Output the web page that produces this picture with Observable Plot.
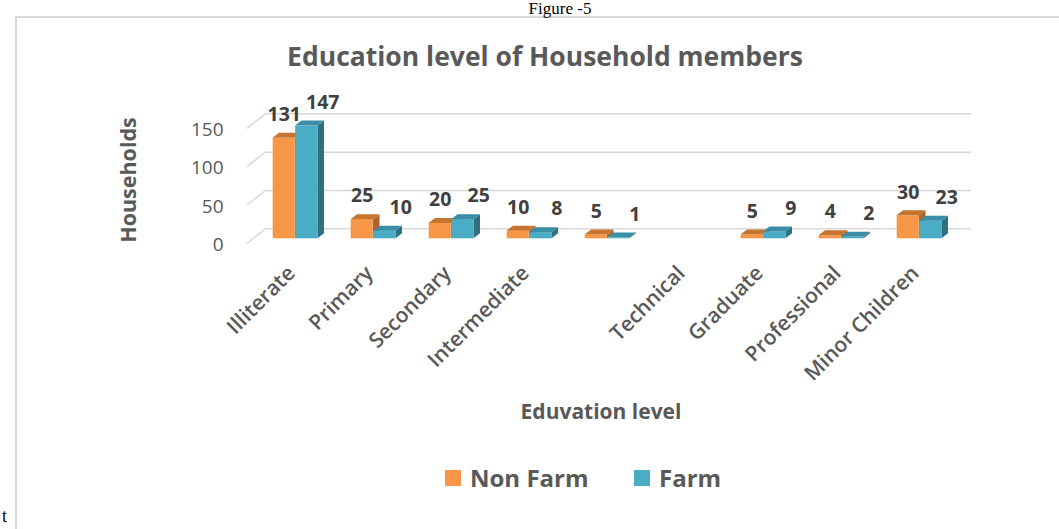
<!DOCTYPE html>
<html>
<head>
<meta charset="utf-8">
<script src="https://cdn.jsdelivr.net/npm/d3@7"></script>
<script src="https://cdn.jsdelivr.net/npm/@observablehq/plot@0.6"></script>
<style>
  html, body { margin: 0; padding: 0; background: #fff; }
  #root { position: relative; width: 1059px; height: 529px; overflow: hidden; background: #fff; font-family: "Open Sans", sans-serif; }
  #fig { position: absolute; left: 560px; top: 0px; transform: translateX(-50%); font: 17px/17px "Liberation Serif", serif; color: #000; white-space: nowrap; }
  #frame { position: absolute; left: 15px; top: 16px; width: 1100px; height: 600px; border-left: 2px solid #d9d9d9; border-top: 2px solid #d9d9d9; }
  #title { position: absolute; left: 545px; top: 39px; transform: translateX(-50%); font-weight: 700; font-size: 26.5px; line-height: 34px; color: #595959; white-space: nowrap; }
  #ytitle { position: absolute; left: 128px; top: 180px; transform: translate(-50%, -50%) rotate(-90deg); font-weight: 700; font-size: 21.5px; line-height: 28px; color: #595959; white-space: nowrap; }
  #xtitle { position: absolute; left: 601px; top: 411px; transform: translate(-50%, -50%); font-weight: 700; font-size: 21px; line-height: 28px; color: #595959; white-space: nowrap; }
  #chart { position: absolute; left: 0; top: 0; }
  .leg { position: absolute; top: 478px; transform: translateY(-50%); display: flex; align-items: center; font-weight: 700; font-size: 24px; line-height: 30px; color: #595959; white-space: nowrap; }
  .leg .sw { width: 16px; height: 16px; margin-right: 9px; }
  #t { position: absolute; left: 2px; top: 506px; font: 18px/20px "Liberation Serif", serif; color: #000; }
</style>
</head>
<body>
<div id="root">
  <div id="frame"></div>
  <div id="fig">Figure -5</div>
  <div id="title">Education level of Household members</div>
  <div id="ytitle">Households</div>
  <div id="chart"></div>
  <div id="xtitle">Eduvation level</div>
  <div id="legend"></div>
  <div id="t">t</div>
</div>
<script>
// ---- data ----
const categories = ["Illiterate", "Primary", "Secondary", "Intermediate", "", "Technical", "Graduate", "Professional", "Minor Children"];
const nonFarm = [131, 25, 20, 10, 5, null, 5, 4, 30];
const farm = [147, 10, 25, 8, 1, null, 9, 2, 23];
const seriesNames = ["Non Farm", "Farm"];
const yTicks = [0, 50, 100, 150];

// ---- styling ----
const colors = {
  "Non Farm": {front: "#F79646", top: "#C6742F", side: "#B0632A"},
  "Farm": {front: "#4BACC6", top: "#3A8EA5", side: "#2E6F80"}
};
const BAR_W = 22.5, DX = 6.5, DY = 5;

const rowsNF = categories.map((c, i) => ({cat: c, value: nonFarm[i]})).filter(d => d.value != null);
const rowsF = categories.map((c, i) => ({cat: c, value: farm[i]})).filter(d => d.value != null);

function faces(rows, isLeft, col) {
  return (index, scales, values, dimensions) => {
    const x = scales.x, y = scales.y;
    const bw = x.bandwidth();
    const g = d3.create("svg:g");
    for (const r of rows) {
      const c = x(r.cat) + bw / 2;
      const xl = isLeft ? c - BAR_W : c;
      const xr = xl + BAR_W;
      const yt = y(r.value), yb = y(0);
      g.append("path")
        .attr("d", `M${xr},${yt}L${xr + DX},${yt - DY}L${xr + DX},${yb - DY}L${xr},${yb}Z`)
        .attr("fill", col.side);
      g.append("path")
        .attr("d", `M${xl},${yt}L${xl + DX},${yt - DY}L${xr + DX},${yt - DY}L${xr},${yt}Z`)
        .attr("fill", col.top);
    }
    return g.node();
  };
}

function wallDiagonals(index, scales, values, dimensions) {
  const y = scales.y;
  const x0 = dimensions.marginLeft;
  const g = d3.create("svg:g").attr("stroke", "#d9d9d9").attr("stroke-width", 1.5);
  for (const v of yTicks) {
    g.append("line")
      .attr("x1", x0 - 7).attr("y1", y(v) + 5)
      .attr("x2", x0 + 12).attr("y2", y(v) - 10);
  }
  return g.node();
}

const band = 78.33;
const inOuter = band / 2 - BAR_W;

const chart = Plot.plot({
  width: 1059,
  height: 400,
  marginLeft: 254,
  marginRight: 100,
  marginTop: 123.3,
  marginBottom: 161.7,
  x: {domain: categories, padding: 0, axis: null},
  y: {domain: [0, 150], axis: null},
  style: {fontFamily: "Open Sans, sans-serif", background: "transparent", overflow: "visible", color: "#595959"},
  marks: [
    Plot.ruleY(yTicks, {dx: 12, dy: -10, stroke: "#d9d9d9", strokeWidth: 1.5}),
    wallDiagonals,
    Plot.axisY({ticks: yTicks, tickSize: 0, tickPadding: 31, dy: 6, fontSize: 19, fill: "#595959", label: null}),
    Plot.axisX({tickRotate: -45, tickSize: 0, tickPadding: 31, dx: -4, fontSize: 21, fontWeight: 600, fill: "#595959", label: null}),
    Plot.barY(rowsNF, {x: "cat", y: "value", fill: colors["Non Farm"].front, insetLeft: inOuter, insetRight: band / 2}),
    faces(rowsNF, true, colors["Non Farm"]),
    Plot.barY(rowsF, {x: "cat", y: "value", fill: colors["Farm"].front, insetLeft: band / 2, insetRight: inOuter}),
    faces(rowsF, false, colors["Farm"]),
    Plot.text(rowsNF, {x: "cat", y: "value", text: d => String(d.value), dx: -BAR_W / 2, dy: -23.5, fontSize: 19.5, fontWeight: 700, fill: "#404040"}),
    Plot.text(rowsF, {x: "cat", y: "value", text: d => String(d.value), dx: BAR_W / 2 + 16, dy: -23.5, fontSize: 19.5, fontWeight: 700, fill: "#404040"})
  ]
});
document.getElementById("chart").appendChild(chart);

// legend
const legend = document.getElementById("legend");
const legLeft = [445, 634];
seriesNames.forEach((name, i) => {
  const item = document.createElement("div");
  item.className = "leg";
  item.style.left = legLeft[i] + "px";
  const sw = document.createElement("span");
  sw.className = "sw";
  sw.style.background = colors[name].front;
  const tx = document.createElement("span");
  tx.textContent = name;
  item.appendChild(sw);
  item.appendChild(tx);
  legend.appendChild(item);
});
</script>
</body>
</html>
